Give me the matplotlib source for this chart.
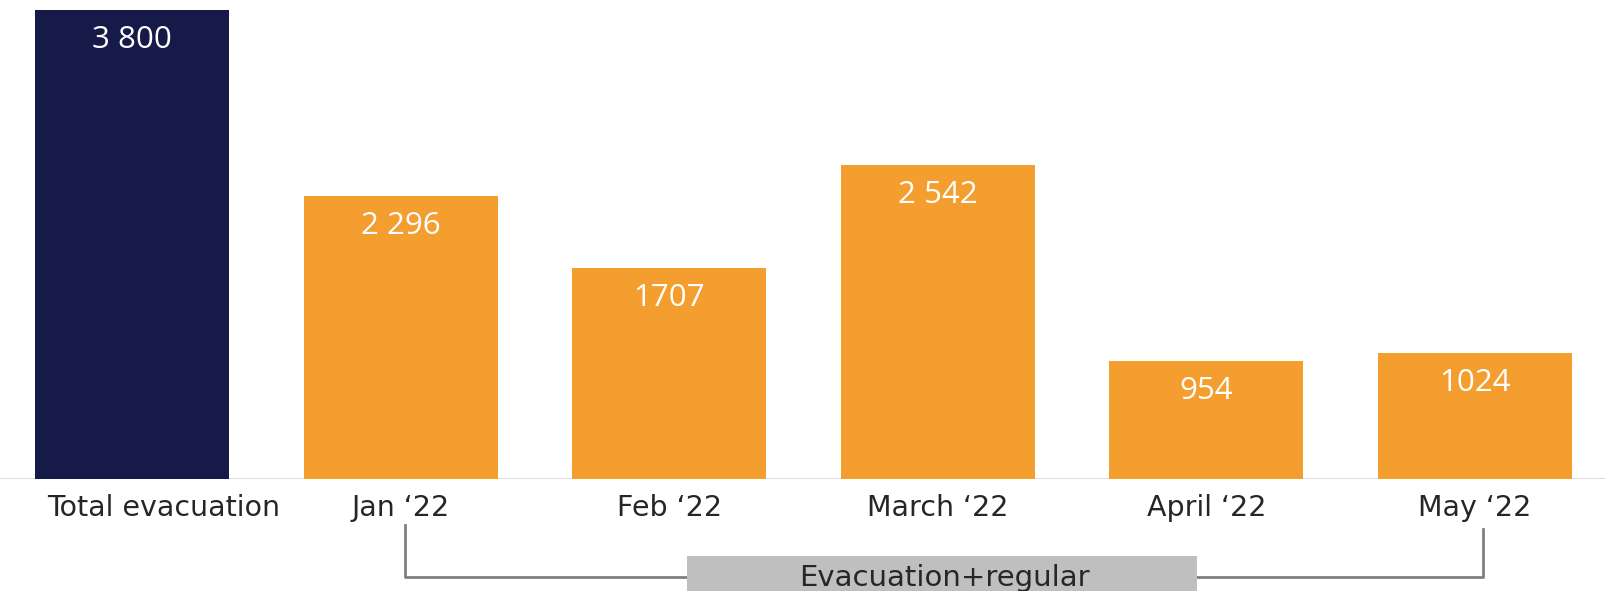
import matplotlib
matplotlib.use("Agg")
import matplotlib.pyplot as plt
from matplotlib.patches import Rectangle
import matplotlib.transforms as mtransforms

categories = ["Total evacuation", "Jan \u201822", "Feb \u201822", "March \u201822", "April \u201822", "May \u201822"]
values = [3800, 2296, 1707, 2542, 954, 1024]
value_labels = ["3 800", "2 296", "1707", "2 542", "954", "1024"]
bracket_label = "Evacuation+regular"

navy = "#151A48"
orange = "#F39E2E"
colors = [navy] + [orange] * 5

W, H = 1605, 591
fig = plt.figure(figsize=(W / 100, H / 100), dpi=100)
ax = fig.add_axes([0, (H - 479) / H, 1, (479 - 10) / H])
spacing = 268.6
x0 = 132
ax.set_xlim(-x0 / spacing, (W - x0) / spacing)
ax.set_ylim(0, 3800)

xs = list(range(len(categories)))
ax.bar(xs, values, width=194 / spacing, color=colors, zorder=2)
ax.axhline(0, color="#D9D9D9", lw=2, zorder=1)

for x, v, lab in zip(xs, values, value_labels):
    ax.annotate(lab, (x, v), xytext=(0, -30), textcoords="offset pixels",
                ha="center", va="center", color="white", fontsize=22.5,
                family=["Open Sans", "DejaVu Sans"])

ax.set_xticks(xs)
ax.set_xticklabels(categories, fontsize=20.5, color="#262626", family="DejaVu Sans")
ax.tick_params(axis="x", length=0, pad=11)
ax.set_yticks([])
for s in ax.spines.values():
    s.set_visible(False)
# shift first label to the right like the reference
first = ax.get_xticklabels()[0]
first.set_transform(first.get_transform() + mtransforms.Affine2D().translate(32, 0))

trans = mtransforms.blended_transform_factory(ax.transData, ax.transAxes)
def px2x(p):
    return (p - x0) / spacing
def py2y(p):
    return -(p - 479) / 469

xl, xr = px2x(405), px2x(1483)
y_top_l, y_top_r, y_bot = py2y(525), py2y(529), py2y(577)
ax.plot([xl, xl, xr, xr], [y_top_l, y_bot, y_bot, y_top_r], transform=trans,
        color="#808080", lw=2, clip_on=False, zorder=1)

bx0, bx1 = px2x(687), px2x(1197)
by0 = py2y(556)
ax.add_patch(Rectangle((bx0, by0), bx1 - bx0, -0.2, transform=trans,
                       facecolor="#BFBFBF", edgecolor="none", clip_on=False, zorder=3))
ax.text(px2x(944), py2y(578), bracket_label, transform=trans, ha="center", va="center",
        fontsize=21, color="#262626", clip_on=False, zorder=4)

fig.savefig("out.png", dpi=100)
